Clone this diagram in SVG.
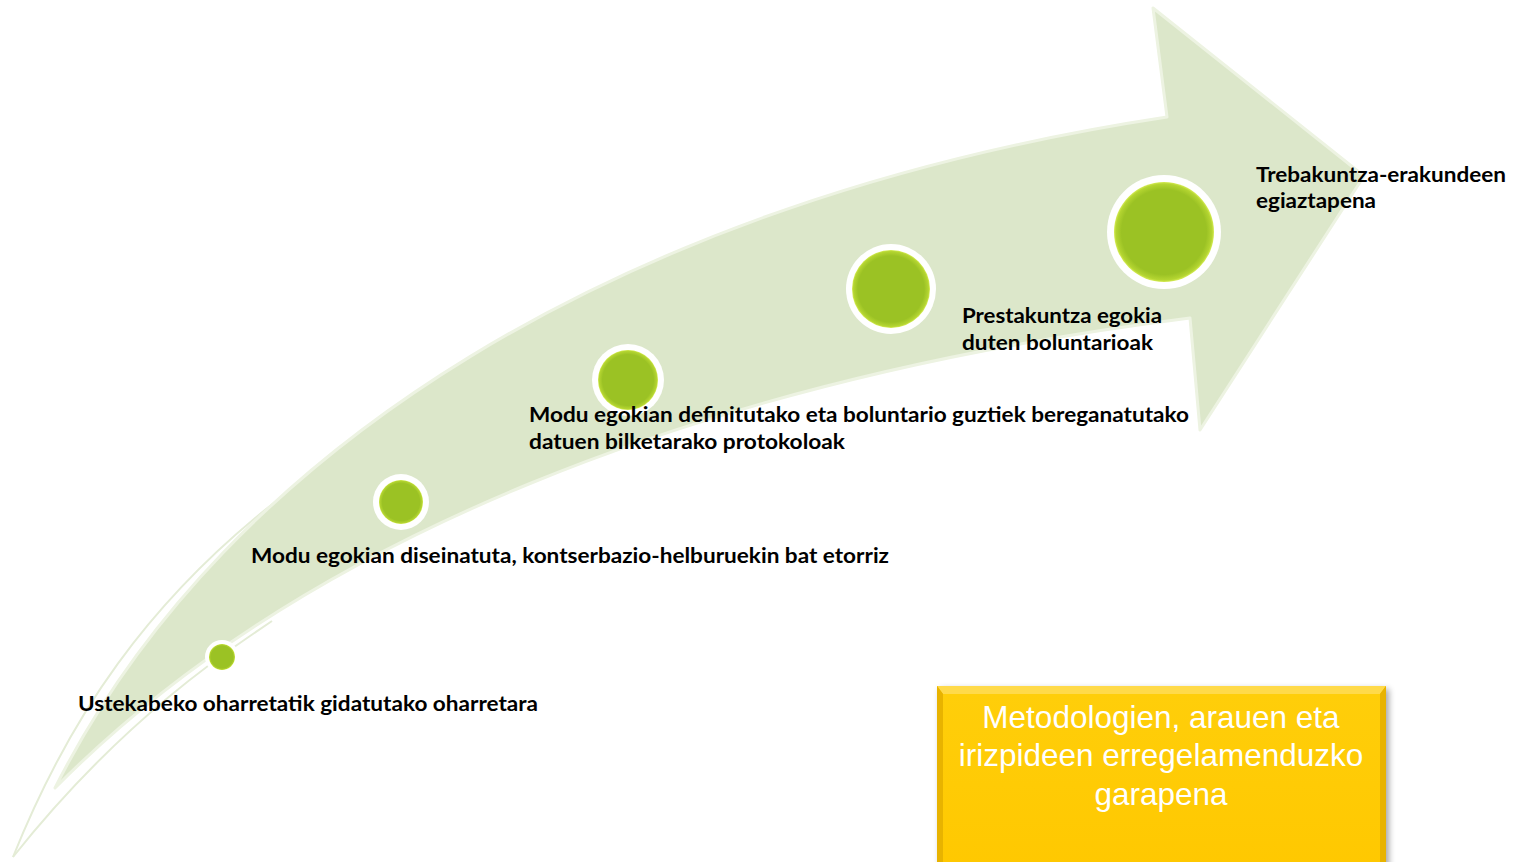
<svg xmlns="http://www.w3.org/2000/svg" width="1523" height="862" viewBox="0 0 1523 862">
  <style>
    .lbl { font-family: "Lato", "Open Sans", "Liberation Sans", sans-serif; font-weight: bold; font-size: 21px; fill: #000000; }
    .box { font-family: "Liberation Sans", Arial, sans-serif; font-size: 31.5px; fill: #FFFFFF; text-anchor: middle; }
    .ring { fill: #FFFFFF; }
    .dot { fill: url(#dotGrad); }
    .glow { fill: none; stroke: #E4ECD6; stroke-width: 2; }
  </style>
  <defs>
    <radialGradient id="dotGrad" cx="0.5" cy="0.5" r="0.5">
      <stop offset="0" stop-color="#9BC224"/>
      <stop offset="0.85" stop-color="#9BC224"/>
      <stop offset="0.96" stop-color="#B4D531"/>
      <stop offset="1" stop-color="#D6EC55"/>
    </radialGradient>
    <linearGradient id="boxGrad" x1="0" y1="0" x2="0" y2="1">
      <stop offset="0" stop-color="#FFCE0A"/>
      <stop offset="1" stop-color="#FFC800"/>
    </linearGradient>
    <filter id="shadow" x="-10%" y="-10%" width="125%" height="125%">
      <feGaussianBlur in="SourceAlpha" stdDeviation="3"/>
      <feOffset dx="3" dy="3" result="b"/>
      <feComponentTransfer><feFuncA type="linear" slope="0.35"/></feComponentTransfer>
      <feMerge><feMergeNode/><feMergeNode in="SourceGraphic"/></feMerge>
    </filter>
  </defs>

  <!-- background arrow -->
  <g id="arrow">
    <path class="glow" d="M 13,857 C 60,740 140,590 330,462"/>
    <path class="glow" d="M 13,857 C 90,760 170,690 250,636 L 272,621"/>
    <path d="M 55,788 C 225,450 620,200 1167,117 L 1153,8 L 1364,176 L 1200,430 L 1190,318 C 700,380 300,540 55,788 Z"
          fill="#DCE7CA" stroke="#EDF3E2" stroke-width="3" stroke-linejoin="round"/>
  </g>

  <g id="connectors"></g>

  <g id="node1">
    <circle class="ring" cx="222" cy="657" r="17"/>
    <circle class="dot" cx="222" cy="657" r="13"/>
    <text class="lbl" x="78" y="711" textLength="460" lengthAdjust="spacingAndGlyphs">Ustekabeko oharretatik gidatutako oharretara</text>
  </g>

  <g id="node2">
    <circle class="ring" cx="401" cy="502" r="28"/>
    <circle class="dot" cx="401" cy="502" r="22"/>
    <text class="lbl" x="251" y="563" textLength="638" lengthAdjust="spacingAndGlyphs">Modu egokian diseinatuta, kontserbazio-helburuekin bat etorriz</text>
  </g>

  <g id="node3">
    <circle class="ring" cx="628" cy="380" r="36"/>
    <circle class="dot" cx="628" cy="380" r="30"/>
    <text class="lbl" x="529" y="422" textLength="660" lengthAdjust="spacingAndGlyphs">Modu egokian definitutako eta boluntario guztiek bereganatutako</text>
    <text class="lbl" x="529" y="449" textLength="316" lengthAdjust="spacingAndGlyphs">datuen bilketarako protokoloak</text>
  </g>

  <g id="node4">
    <circle class="ring" cx="891" cy="289" r="45"/>
    <circle class="dot" cx="891" cy="289" r="39"/>
    <text class="lbl" x="962" y="323" textLength="200" lengthAdjust="spacingAndGlyphs">Prestakuntza egokia</text>
    <text class="lbl" x="962" y="350" textLength="191" lengthAdjust="spacingAndGlyphs">duten boluntarioak</text>
  </g>

  <g id="node5">
    <circle class="ring" cx="1164" cy="232" r="57"/>
    <circle class="dot" cx="1164" cy="232" r="50"/>
    <text class="lbl" x="1256" y="182" textLength="250" lengthAdjust="spacingAndGlyphs">Trebakuntza-erakundeen</text>
    <text class="lbl" x="1256" y="208" textLength="120" lengthAdjust="spacingAndGlyphs">egiaztapena</text>
  </g>

  <g id="box">
    <g filter="url(#shadow)">
      <rect x="937" y="686" width="449" height="190" fill="#F2BC00"/>
    </g>
    <polygon points="937,686 1386,686 1380,694 943,694" fill="#FFDA4A"/>
    <polygon points="937,686 943,694 943,876 937,876" fill="#E8B300"/>
    <polygon points="1386,686 1380,694 1380,876 1386,876" fill="#E8B300"/>
    <rect x="943" y="694" width="437" height="182" fill="url(#boxGrad)"/>
    <text class="box" x="1161" y="728">Metodologien, arauen eta</text>
    <text class="box" x="1161" y="766">irizpideen erregelamenduzko</text>
    <text class="box" x="1161" y="805">garapena</text>
  </g>
</svg>
